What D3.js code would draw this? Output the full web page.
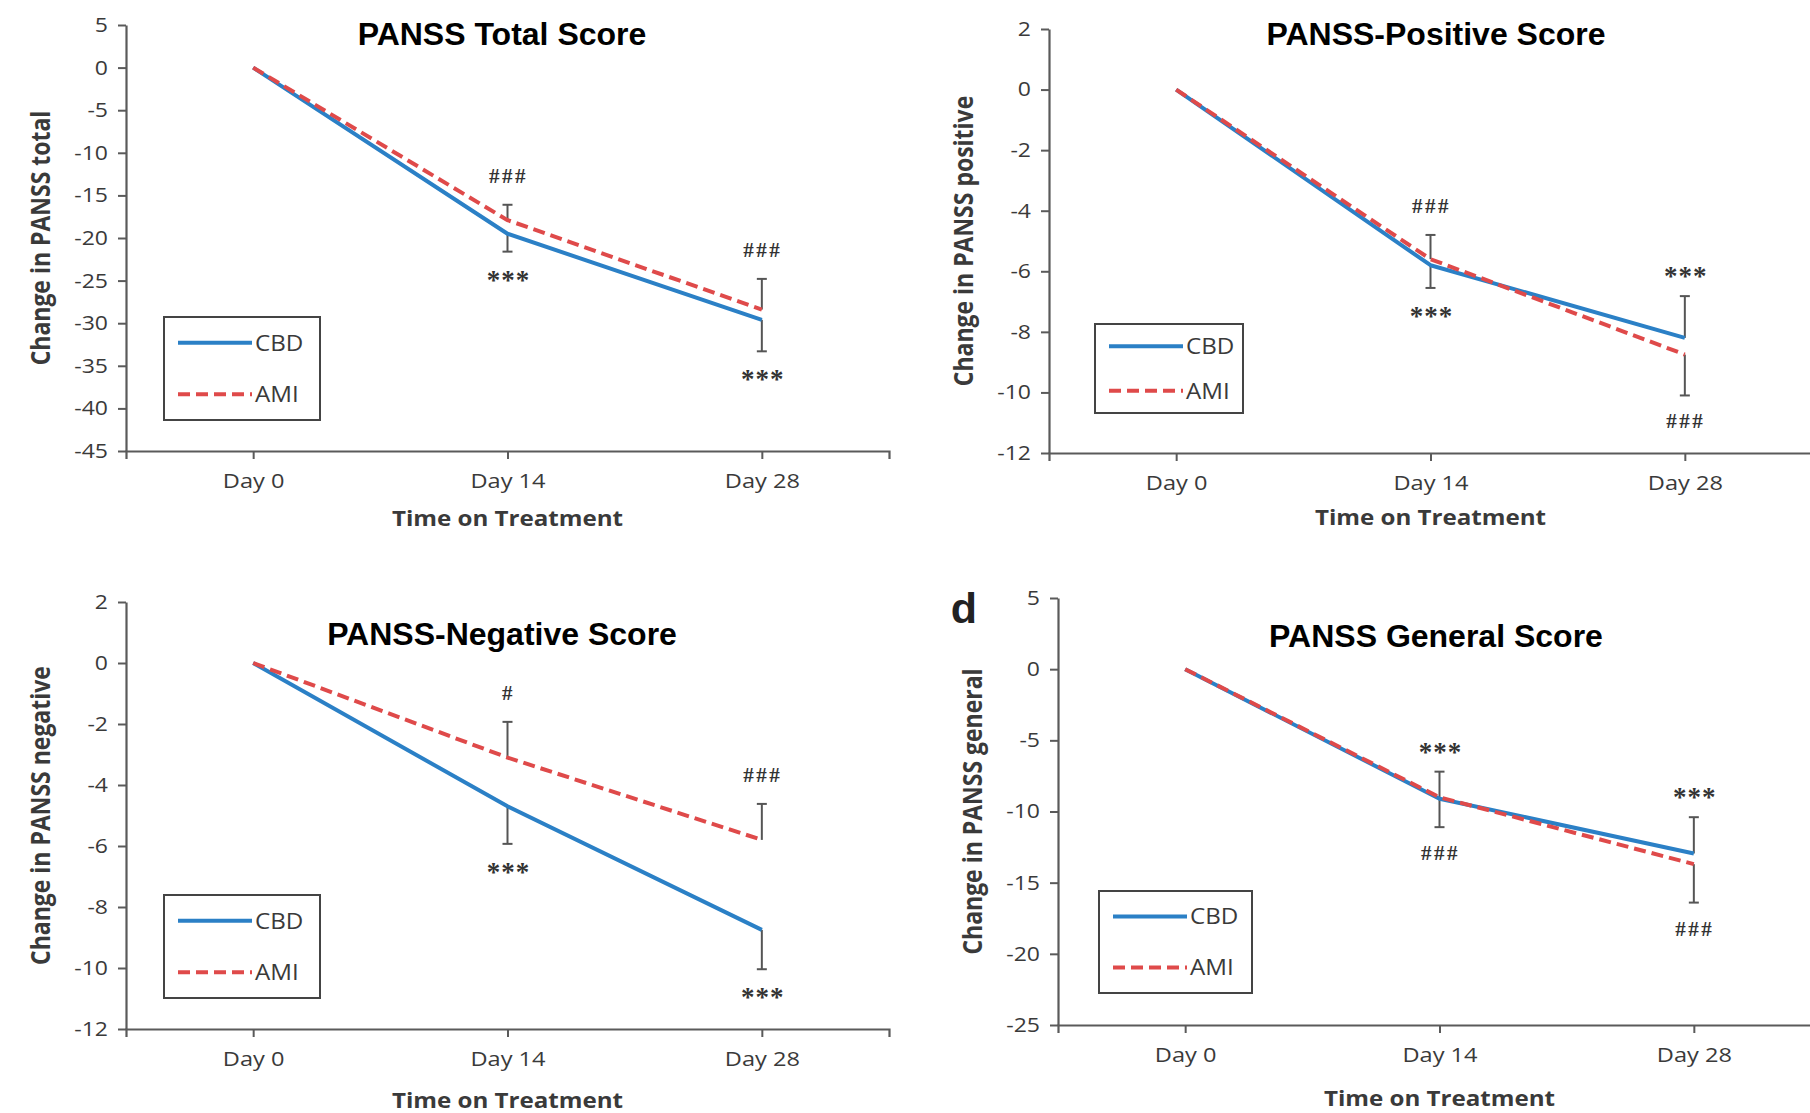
<!DOCTYPE html>
<html>
<head>
<meta charset="utf-8">
<script src="https://cdn.jsdelivr.net/npm/d3@7"></script>
<style>
  html, body { margin: 0; padding: 0; background: #fff; }
  svg { display: block; }
</style>
</head>
<body>
<svg id="chart" width="1810" height="1113"></svg>
<script>
// ---------- DATA ----------
const days = ["Day 0", "Day 14", "Day 28"];
const seriesNames = ["CBD", "AMI"];

// PANSS Total
const totalCBD = [0, -19.5, -29.6];
const totalAMI = [0, -17.9, -28.4];
const totalCBDErr = [null, -2.1, -3.7];   // signed extent of error bar from the point
const totalAMIErr = [null, 1.8, 3.6];
const totalCBDSig = ["", "***", "***"];
const totalAMISig = ["", "###", "###"];
const totalTicks = [5, 0, -5, -10, -15, -20, -25, -30, -35, -40, -45];

// PANSS Positive
const posCBD = [0, -5.8, -8.2];
const posAMI = [0, -5.6, -8.75];
const posCBDErr = [null, -0.75, 1.38];
const posAMIErr = [null, 0.8, -1.35];
const posCBDSig = ["", "***", "***"];
const posAMISig = ["", "###", "###"];
const posTicks = [2, 0, -2, -4, -6, -8, -10, -12];

// PANSS Negative
const negCBD = [0, -4.7, -8.75];
const negAMI = [0, -3.1, -5.8];
const negCBDErr = [null, -1.23, -1.29];
const negAMIErr = [null, 1.17, 1.18];
const negCBDSig = ["", "***", "***"];
const negAMISig = ["", "#", "###"];
const negTicks = [2, 0, -2, -4, -6, -8, -10, -12];

// PANSS General
const genCBD = [0, -9.1, -12.95];
const genAMI = [0, -9.0, -13.7];
const genCBDErr = [null, 1.9, 2.55];
const genAMIErr = [null, -2.1, -2.7];
const genCBDSig = ["", "***", "***"];
const genAMISig = ["", "###", "###"];
const genTicks = [5, 0, -5, -10, -15, -20, -25];

// ---------- LAYOUT / STYLE ----------
const COLORS = { CBD: "#2b80c6", AMI: "#df4a4a" };
const AXIS_COLOR = "#5a5a5a";
const TEXT_COLOR = "#3a3a3a";
const TICK_FONT = "'Open Sans', 'DejaVu Sans', sans-serif";
const STRETCH = 1.15;   // reference text is horizontally widened
const PLOT_W = 763;
const LINE_W = 4;

const panels = [
  { title: "PANSS Total Score", ylabel: "Change in PANSS total",
    cbd: totalCBD, ami: totalAMI, cbdErr: totalCBDErr, amiErr: totalAMIErr,
    cbdSig: totalCBDSig, amiSig: totalAMISig, ticks: totalTicks,
    x0: 126, top: 25, bottom: 451, titleX: 502, titleY: 34, xlabelY: 518,
    legend: { x: 164, y: 317, w: 156, h: 103 } },
  { title: "PANSS-Positive Score", ylabel: "Change in PANSS positive",
    cbd: posCBD, ami: posAMI, cbdErr: posCBDErr, amiErr: posAMIErr,
    cbdSig: posCBDSig, amiSig: posAMISig, ticks: posTicks,
    x0: 1049, top: 29, bottom: 453, titleX: 1436, titleY: 34, xlabelY: 517,
    legend: { x: 1095, y: 324, w: 148, h: 89 } },
  { title: "PANSS-Negative Score", ylabel: "Change in PANSS negative",
    cbd: negCBD, ami: negAMI, cbdErr: negCBDErr, amiErr: negAMIErr,
    cbdSig: negCBDSig, amiSig: negAMISig, ticks: negTicks,
    x0: 126, top: 602, bottom: 1029, titleX: 502, titleY: 634, xlabelY: 1100,
    legend: { x: 164, y: 895, w: 156, h: 103 } },
  { title: "PANSS General Score", ylabel: "Change in PANSS general",
    cbd: genCBD, ami: genAMI, cbdErr: genCBDErr, amiErr: genAMIErr,
    cbdSig: genCBDSig, amiSig: genAMISig, ticks: genTicks,
    x0: 1058, top: 598, bottom: 1025, titleX: 1436, titleY: 636, xlabelY: 1098,
    legend: { x: 1099, y: 891, w: 153, h: 102 }, tag: "d" }
];

function stretchText(sel, k) {
  sel.each(function () {
    const t = d3.select(this);
    const x0 = +t.attr("x") || 0;
    t.attr("x", x0 / k).attr("transform", `scale(${k},1)`);
  });
}

// text placed at (x,y) and widened horizontally
function wideText(parent, x, y, k) {
  return parent.append("g").attr("transform", `translate(${x},${y}) scale(${k},1)`).append("text");
}

const svg = d3.select("#chart");
svg.append("rect").attr("width", 1810).attr("height", 1113).attr("fill", "#fff");

panels.forEach(p => {
  const g = svg.append("g");
  const x = d3.scalePoint().domain(days).range([p.x0, p.x0 + PLOT_W]).padding(0.5);
  const y = d3.scaleLinear().domain([d3.min(p.ticks), d3.max(p.ticks)]).range([p.bottom, p.top]);

  // Y axis
  const ya = g.append("g").attr("transform", `translate(${p.x0},0)`)
    .call(d3.axisLeft(y).tickValues(p.ticks).tickSize(8).tickSizeOuter(0).tickPadding(10)
      .tickFormat(d => String(d)));
  ya.select(".domain").attr("stroke", AXIS_COLOR).attr("stroke-width", 2.2);
  ya.selectAll(".tick line").attr("stroke", AXIS_COLOR).attr("stroke-width", 2);
  ya.selectAll(".tick text").attr("fill", TEXT_COLOR).style("font-family", TICK_FONT).style("font-size", "20px")
    .call(stretchText, STRETCH);

  // X axis
  const xa = g.append("g").attr("transform", `translate(0,${p.bottom})`)
    .call(d3.axisBottom(x).tickSize(8).tickSizeOuter(8).tickPadding(14));
  xa.select(".domain").attr("stroke", AXIS_COLOR).attr("stroke-width", 2.2);
  xa.selectAll(".tick line").attr("stroke", AXIS_COLOR).attr("stroke-width", 2);
  xa.selectAll(".tick text").attr("fill", TEXT_COLOR).style("font-family", TICK_FONT).style("font-size", "20.5px")
    .call(stretchText, STRETCH);

  // Axis titles
  g.append("text")
    .attr("transform", `translate(${p.x0 - 86},${(p.top + p.bottom) / 2}) rotate(-90) scale(1,${STRETCH})`)
    .attr("text-anchor", "middle").attr("dominant-baseline", "central")
    .attr("fill", TEXT_COLOR).style("font-family", TICK_FONT).style("font-weight", "700").style("font-size", "23px")
    .text(p.ylabel);
  wideText(g, x("Day 14"), p.xlabelY, STRETCH)
    .attr("text-anchor", "middle").attr("dominant-baseline", "central")
    .attr("fill", TEXT_COLOR).style("font-family", TICK_FONT).style("font-weight", "700").style("font-size", "21px")
    .text("Time on Treatment");

  // Title
  g.append("text")
    .attr("x", p.titleX).attr("y", p.titleY)
    .attr("text-anchor", "middle").attr("dominant-baseline", "central")
    .attr("fill", "#000").style("font-family", "'Liberation Sans', Arial, sans-serif")
    .style("font-weight", "700").style("font-size", "32px")
    .text(p.title);

  if (p.tag) {
    g.append("text").attr("x", p.x0 - 94).attr("y", p.top + 25)
      .attr("text-anchor", "middle")
      .attr("fill", "#222").style("font-family", "'Liberation Sans', Arial, sans-serif")
      .style("font-weight", "700").style("font-size", "43px").text(p.tag);
  }

  const series = [
    { name: "CBD", vals: p.cbd, err: p.cbdErr, sig: p.cbdSig },
    { name: "AMI", vals: p.ami, err: p.amiErr, sig: p.amiSig }
  ];

  // Error bars (drawn under lines)
  series.forEach(s => {
    days.forEach((d, i) => {
      if (s.err[i] === null) return;
      const cx = x(d), y1 = y(s.vals[i]), y2 = y(s.vals[i] + s.err[i]);
      g.append("line").attr("x1", cx).attr("x2", cx).attr("y1", y1).attr("y2", y2)
        .attr("stroke", "#555").attr("stroke-width", 2);
      g.append("line").attr("x1", cx - 5).attr("x2", cx + 5).attr("y1", y2).attr("y2", y2)
        .attr("stroke", "#555").attr("stroke-width", 2);
    });
  });

  // Lines
  const line = d3.line().x((v, i) => x(days[i])).y(v => y(v));
  g.append("path").datum(p.cbd).attr("d", line).attr("fill", "none")
    .attr("stroke", COLORS.CBD).attr("stroke-width", LINE_W).attr("stroke-linejoin", "round");
  g.append("path").datum(p.ami).attr("d", line).attr("fill", "none")
    .attr("stroke", COLORS.AMI).attr("stroke-width", LINE_W).attr("stroke-dasharray", "12,6");

  // Significance markers at the end of each error bar
  series.forEach(s => {
    days.forEach((d, i) => {
      if (!s.sig[i]) return;
      const end = y(s.vals[i] + s.err[i]);
      const above = s.err[i] >= 0;
      const isStar = s.sig[i].indexOf("*") >= 0;
      const yy = isStar ? end + (above ? -24 : 24) + 4 : end + (above ? -29 : 26);
      g.append("text")
        .attr("x", x(d) + 1).attr("y", yy)
        .attr("text-anchor", "middle").attr("dominant-baseline", "central")
        .attr("fill", "#333").style("font-family", "'Liberation Serif', 'Times New Roman', serif")
        .style("font-size", isStar ? "27px" : "21px").style("font-weight", "700")
        .style("letter-spacing", isStar ? "1px" : "2.5px")
        .text(s.sig[i]);
    });
  });

  // Legend
  const L = p.legend;
  const lg = g.append("g");
  lg.append("rect").attr("x", L.x).attr("y", L.y).attr("width", L.w).attr("height", L.h)
    .attr("fill", "#fff").attr("stroke", "#444").attr("stroke-width", 2);
  seriesNames.forEach((name, k) => {
    const ry = L.y + L.h * (k === 0 ? 0.25 : 0.75);
    lg.append("line").attr("x1", L.x + 14).attr("x2", L.x + 88).attr("y1", ry).attr("y2", ry)
      .attr("stroke", COLORS[name]).attr("stroke-width", LINE_W)
      .attr("stroke-dasharray", name === "AMI" ? "12,6" : null);
    wideText(lg, L.x + 91, ry, STRETCH)
      .attr("dominant-baseline", "central")
      .attr("fill", TEXT_COLOR).style("font-family", TICK_FONT).style("font-size", "21px")
      .text(name);
  });
});
</script>
</body>
</html>
